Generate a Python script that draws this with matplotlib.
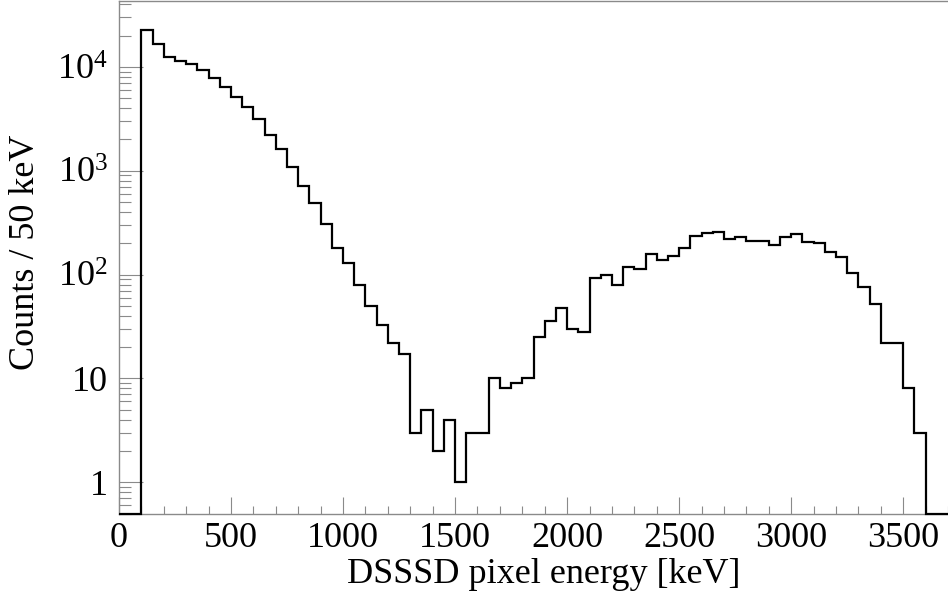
import numpy as np
import matplotlib
matplotlib.use("Agg")
import matplotlib.pyplot as plt
from matplotlib.ticker import MultipleLocator, LogLocator, FixedLocator, NullFormatter

# DSSSD pixel energy spectrum, 50 keV bins from 0 to 3700 keV
BIN_WIDTH = 50
E_MIN, E_MAX = 0, 3700
COUNTS = [
    0, 0,
    22700, 16500, 12500, 11400, 10700, 9350, 7720, 6380, 5110, 4060,
    3140, 2190, 1630, 1090, 706, 489, 309, 179, 130, 79,
    50, 33, 22, 17, 3, 5, 2, 4, 1, 3,
    3, 10, 8, 9, 10, 25, 36, 48, 30, 28,
    93, 98, 80, 119, 112, 156, 137, 152, 179, 233,
    250, 259, 220, 228, 209, 212, 191, 228, 246, 206,
    199, 164, 146, 104, 75, 52, 22, 22, 8, 3,
    0, 0,
]
Y_MIN, Y_MAX = 0.5, 4.3e4
X_MAJOR = [0, 500, 1000, 1500, 2000, 2500, 3000, 3500]
Y_MAJOR = [1, 10, 100, 1000, 10000]
Y_LABELS = ["1", "10", r"$\mathregular{10^{2}}$", r"$\mathregular{10^{3}}$", r"$\mathregular{10^{4}}$"]
XLABEL = "DSSSD pixel energy [keV]"
YLABEL = "Counts / 50 keV"

plt.rcParams["font.family"] = ["Liberation Serif", "DejaVu Serif"]
plt.rcParams["mathtext.fontset"] = "custom"
plt.rcParams["mathtext.rm"] = "Liberation Serif"
FS = 26
AXC = "#8a8a8a"

W, H = 948, 594
fig = plt.figure(figsize=(W / 100, H / 100), dpi=100)
ax = fig.add_axes([119 / W, 1 - 513.5 / H, (W - 119) / W, (513.5 - 1) / H])

edges = np.arange(E_MIN, E_MAX + BIN_WIDTH, BIN_WIDTH)
vals = np.array(COUNTS, float)
vals = np.where(vals > 0, vals, Y_MIN)  # empty bins drawn on the frame, ROOT style
ax.stairs(vals, edges, baseline=None, color="black", lw=1.6, clip_on=False, zorder=3)

ax.set_yscale("log")
ax.set_xlim(E_MIN, E_MAX)
ax.set_ylim(Y_MIN, Y_MAX)

ax.xaxis.set_major_locator(FixedLocator(X_MAJOR))
ax.xaxis.set_minor_locator(MultipleLocator(100))
ax.set_xticklabels([str(v) for v in X_MAJOR])
ax.yaxis.set_major_locator(FixedLocator(Y_MAJOR))
ax.yaxis.set_minor_locator(LogLocator(base=10, subs=np.arange(2, 10)))
ax.yaxis.set_minor_formatter(NullFormatter())
ax.set_yticklabels(Y_LABELS)

ax.tick_params(axis="both", which="both", direction="in", color=AXC, width=0.8,
               labelsize=FS, labelcolor="black")
ax.tick_params(axis="x", which="major", length=12.2, pad=6)
ax.tick_params(axis="x", which="minor", length=5.8)
ax.tick_params(axis="y", which="major", length=17.3, pad=8)
ax.tick_params(axis="y", which="minor", length=8.6)
ax.tick_params(top=False, right=False, which="both")

for s in ["left", "bottom", "top"]:
    ax.spines[s].set_color(AXC)
    ax.spines[s].set_linewidth(1.0)
ax.spines["right"].set_visible(False)

fig.text(544 / W, 1 - 583 / H, XLABEL, ha="center", va="baseline", fontsize=FS)
fig.text(26 / W, 1 - 252 / H, YLABEL, ha="center", va="center", rotation=90, fontsize=FS)

fig.savefig("out.png", dpi=100)
